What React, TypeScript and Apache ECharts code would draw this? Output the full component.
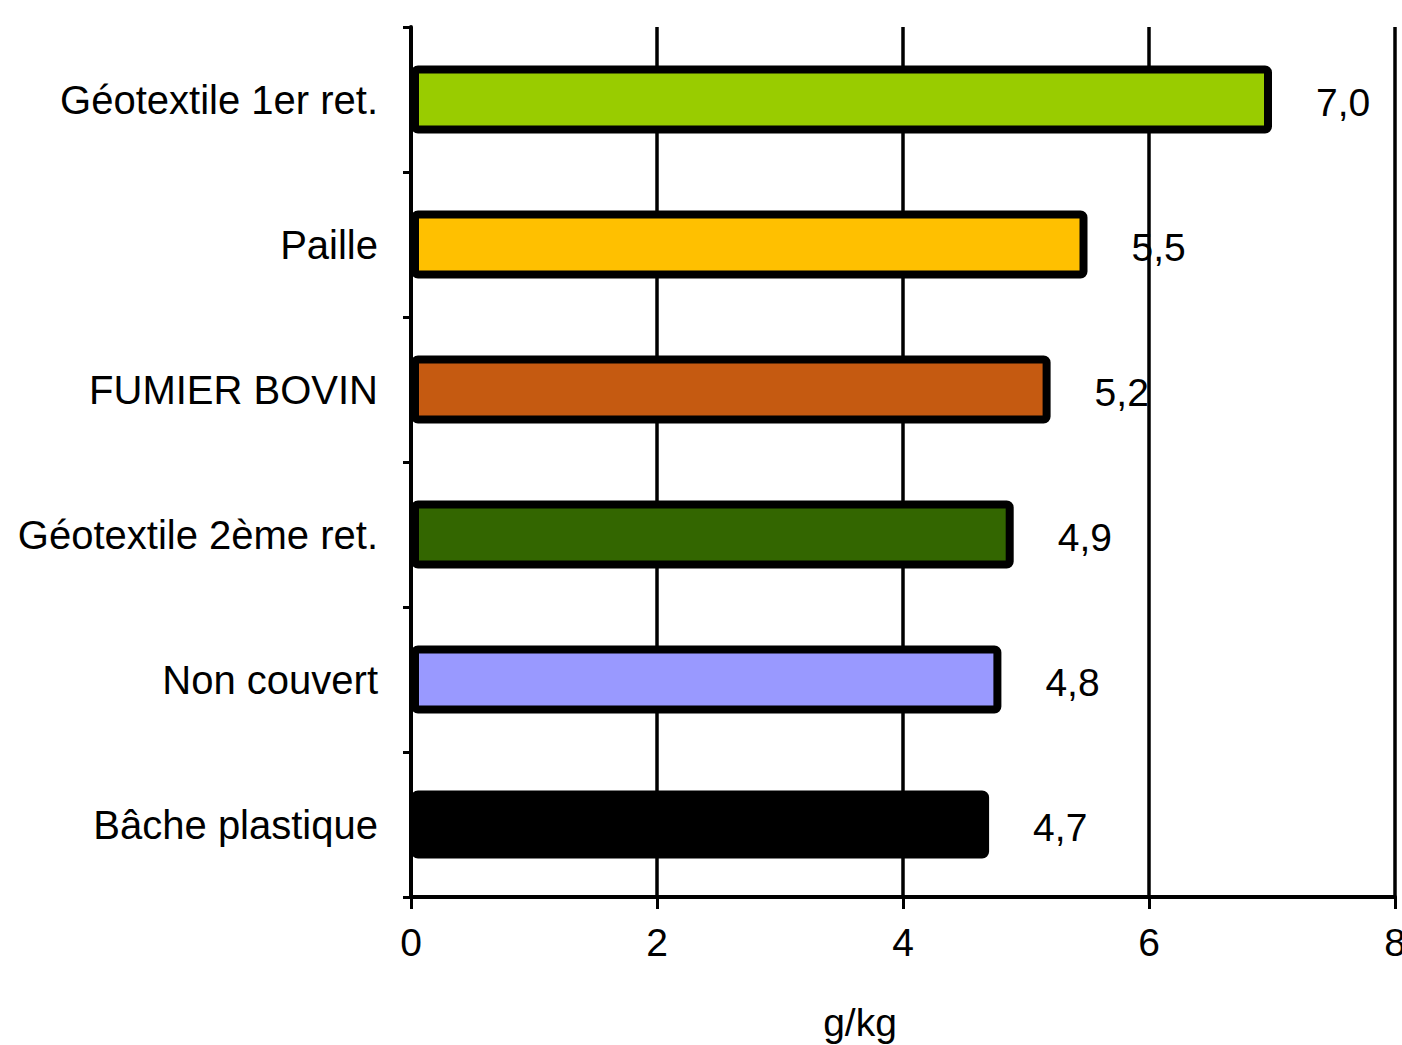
import React, { useEffect, useRef } from "react";
import * as echarts from "echarts";

const categories = [
  "Géotextile 1er ret.",
  "Paille",
  "FUMIER BOVIN",
  "Géotextile 2ème ret.",
  "Non couvert",
  "Bâche plastique",
];
const values = [7.0, 5.5, 5.2, 4.9, 4.8, 4.7];
const barColors = ["#99CC00", "#FFC000", "#C55A11", "#336600", "#9999FF", "#000000"];
const xTicks = [0, 2, 4, 6, 8];
const axisTitle = "g/kg";

const FONT = "'Liberation Sans', Arial, sans-serif";
const FS = 39;

export default function App() {
  const ref = useRef<HTMLDivElement>(null);
  useEffect(() => {
    if (!ref.current) return;
    const chart = echarts.init(ref.current, null, { renderer: "svg" });
    chart.setOption({
      animation: false,
      backgroundColor: "#ffffff",
      textStyle: { fontFamily: FONT },
      grid: {
        left: 411,
        right: 7,
        top: 27,
        bottom: 148,
        containLabel: false,
        outerBoundsMode: "none",
      },
      xAxis: {
        type: "value",
        min: xTicks[0],
        max: xTicks[xTicks.length - 1],
        interval: 2,
        axisLine: { show: true, lineStyle: { color: "#000", width: 4 } },
        axisTick: { show: true, length: 12, lineStyle: { color: "#000", width: 3 } },
        axisLabel: { color: "#000", fontSize: FS, fontFamily: FONT, margin: 26 },
        splitLine: { show: true, lineStyle: { color: "#000", width: 3.5 } },
      },
      yAxis: {
        type: "category",
        data: categories,
        inverse: true,
        boundaryGap: true,
        axisLine: { show: true, lineStyle: { color: "#000", width: 4 } },
        axisTick: { show: true, length: 8, lineStyle: { color: "#000", width: 3 } },
        axisLabel: { color: "#000", fontSize: 40, fontFamily: FONT, margin: 33 },
        splitLine: { show: false },
      },
      graphic: [
        {
          type: "text",
          x: 860,
          y: 1022,
          style: {
            text: axisTitle,
            fontSize: FS,
            fontFamily: FONT,
            fill: "#000",
            textAlign: "center",
            textVerticalAlign: "middle",
          },
        },
      ],
      series: [
        {
          type: "bar",
          barWidth: 68,
          data: values.map((v, i) => ({
            value: v,
            itemStyle: {
              color: barColors[i],
              borderColor: "#000",
              borderWidth: 8,
              borderRadius: 3,
            },
          })),
          label: {
            show: true,
            position: "right",
            distance: 44,
            offset: [0, 3],
            color: "#000",
            fontSize: FS,
            fontFamily: FONT,
            formatter: (p: any) => Number(p.value).toFixed(1).replace(".", ","),
          },
        },
      ],
    });
    return () => chart.dispose();
  }, []);
  return (
    <div
      ref={ref}
      style={{ position: "fixed", left: 0, top: 0, width: 1402, height: 1045 }}
    />
  );
}
